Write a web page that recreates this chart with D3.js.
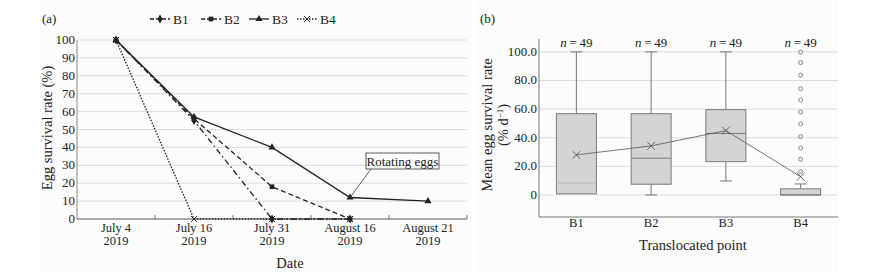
<!DOCTYPE html>
<html>
<head>
<meta charset="utf-8">
<script src="https://cdn.jsdelivr.net/npm/d3@7"></script>
<style>
  body { margin: 0; background: #fff; }
  svg { font-family: "Liberation Serif", "Times New Roman", serif; }
</style>
</head>
<body>
<div id="chart"></div>
<script>
// ---- datos panel (a)
const dateLabels = ["July 4", "July 16", "July 31", "August 16", "August 21"];
const yearLabel = "2019";
const b1Rates = [100, 55, 0, 0];
const b2Rates = [100, 56, 18, 0];
const b3Rates = [100, 57, 40, 12, 10];
const b4Rates = [100, 0, 0, 0];
const rateTicks = [0, 10, 20, 30, 40, 50, 60, 70, 80, 90, 100];

// ---- datos panel (b)
const points = ["B1", "B2", "B3", "B4"];
const q1 = [0.8, 7.5, 23.3, 0];
const medians = [8.4, 25.7, 43, 0];
const q3 = [56.8, 56.8, 59.6, 4.3];
const whiskLo = [0.8, 0, 9.8, 0];
const whiskHi = [100, 100, 100, 7.7];
const means = [28, 34.3, 45, 12.8];
const nCounts = [49, 49, 49, 49];
const b4Outliers = [99.8, 92.5, 83.7, 74.3, 66.4, 58, 49.7, 40.8, 32.9, 25, 16.3];
const meanTicks = [0, 20, 40, 60, 80, 100];

const svg = d3.select("#chart").append("svg")
    .attr("width", 888)
    .attr("height", 279);

// fondos muy tenues de cada panel
svg.append("rect").attr("x", 40).attr("y", 0).attr("width", 432).attr("height", 272).attr("fill", "#fcfcfc");
svg.append("rect").attr("x", 476).attr("y", 0).attr("width", 362).attr("height", 272).attr("fill", "#fcfcfc");

// ================= Panel (a) =================
const xA = d3.scaleBand().domain(dateLabels).range([77, 467]);
const yA = d3.scaleLinear().domain([0, 100]).range([219, 40]);
const gA = svg.append("g");

gA.append("text").attr("x", 42).attr("y", 23).attr("font-size", 13).attr("fill", "#222").text("(a)");

// grid
gA.selectAll(".gridA").data(rateTicks.filter(d => d > 0)).join("line")
    .attr("x1", 77).attr("x2", 467)
    .attr("y1", d => yA(d)).attr("y2", d => yA(d))
    .attr("stroke", "#dcdcdc").attr("stroke-width", 1);

// y ticks
gA.selectAll(".ytA").data(rateTicks).join("text")
    .attr("x", 75).attr("y", d => yA(d) + 4)
    .attr("text-anchor", "end").attr("font-size", 13).attr("fill", "#222")
    .text(d => d);

// axis lines
gA.append("line").attr("x1", 77).attr("x2", 77).attr("y1", yA(100)).attr("y2", yA(0))
    .attr("stroke", "#888");
gA.append("line").attr("x1", 77).attr("x2", 467).attr("y1", yA(0)).attr("y2", yA(0))
    .attr("stroke", "#555");
const boundaries = dateLabels.map(d => xA(d) + xA.bandwidth());
gA.selectAll(".tickA").data(boundaries).join("line")
    .attr("x1", d => d).attr("x2", d => d)
    .attr("y1", yA(0) - 4).attr("y2", yA(0))
    .attr("stroke", "#777");

// x labels
const cx = d => xA(d) + xA.bandwidth() / 2;
gA.selectAll(".xlA").data(dateLabels).join("text")
    .attr("x", cx).attr("y", 232)
    .attr("text-anchor", "middle").attr("font-size", 12.5).attr("fill", "#222")
    .text(d => d);
gA.selectAll(".xlA2").data(dateLabels).join("text")
    .attr("x", cx).attr("y", 245)
    .attr("text-anchor", "middle").attr("font-size", 12.5).attr("fill", "#222")
    .text(yearLabel);

gA.append("text").attr("x", 290).attr("y", 268).attr("text-anchor", "middle")
    .attr("font-size", 14.5).attr("fill", "#222").text("Date");
gA.append("text").attr("transform", "translate(52,128) rotate(-90)")
    .attr("text-anchor", "middle").attr("font-size", 14.5).attr("fill", "#222")
    .text("Egg survival rate (%)");

// series
const seriesA = [
  { name: "B1", values: b1Rates, dash: "6,3,1.5,3", marker: "diamond" },
  { name: "B2", values: b2Rates, dash: "5,3", marker: "square" },
  { name: "B3", values: b3Rates, dash: null, marker: "triangle" },
  { name: "B4", values: b4Rates, dash: "1.5,1.5", marker: "cross" }
];
const symbolOf = {
  diamond: d3.symbol().type(d3.symbolDiamond).size(24),
  square: d3.symbol().type(d3.symbolSquare).size(22),
  triangle: d3.symbol().type(d3.symbolTriangle).size(22),
  cross: d3.symbol().type(d3.symbolX).size(26)
};
const lineA = d3.line()
    .x((d, i) => cx(dateLabels[i]))
    .y(d => yA(d));

seriesA.forEach(s => {
  gA.append("path")
      .attr("d", lineA(s.values))
      .attr("fill", "none")
      .attr("stroke", "#222")
      .attr("stroke-width", 1.3)
      .attr("stroke-dasharray", s.dash);
});
seriesA.forEach(s => {
  gA.selectAll(null).data(s.values).join("path")
      .attr("transform", (d, i) => `translate(${cx(dateLabels[i])},${yA(d)})`)
      .attr("d", symbolOf[s.marker])
      .attr("fill", "#222")
      .attr("stroke", s.marker === "cross" ? "#222" : "none")
      .attr("stroke-width", 1);
});

// annotation
const annX = cx("August 16"), annY = yA(b3Rates[3]);
gA.append("line").attr("x1", annX).attr("y1", annY).attr("x2", annX + 21).attr("y2", 169)
    .attr("stroke", "#333").attr("stroke-width", 0.8);
gA.append("rect").attr("x", annX + 16).attr("y", 153).attr("width", 73).attr("height", 16)
    .attr("fill", "#fff").attr("stroke", "#333").attr("stroke-width", 0.8);
gA.append("text").attr("x", annX + 52.5).attr("y", 165.5).attr("text-anchor", "middle")
    .attr("font-size", 13).attr("fill", "#222").text("Rotating eggs");

// legend
const legX = [150, 201, 249, 297];
seriesA.forEach((s, i) => {
  const lg = gA.append("g").attr("transform", `translate(${legX[i]},19)`);
  lg.append("line").attr("x1", 0).attr("x2", 20).attr("y1", 0).attr("y2", 0)
      .attr("stroke", "#222").attr("stroke-width", 1.3)
      .attr("stroke-dasharray", s.dash ? (s.marker === "cross" ? "1.5,1.5" : "4,2") : null);
  lg.append("path").attr("transform", "translate(10,0)")
      .attr("d", symbolOf[s.marker])
      .attr("fill", "#222").attr("stroke", s.marker === "cross" ? "#222" : "none");
  lg.append("text").attr("x", 23).attr("y", 4.5).attr("font-size", 13.5).attr("fill", "#222").text(s.name);
});

// ================= Panel (b) =================
const xB = d3.scaleBand().domain(points).range([539, 838]);
const yB = d3.scaleLinear().domain([-15.4, 109]).range([217, 39]);
const gB = svg.append("g");
const cxB = d => xB(d) + xB.bandwidth() / 2;
const boxW = 40;

gB.append("text").attr("x", 480).attr("y", 23).attr("font-size", 13).attr("fill", "#222").text("(b)");

gB.selectAll(".gridB").data(meanTicks).join("line")
    .attr("x1", 539).attr("x2", 838)
    .attr("y1", d => yB(d)).attr("y2", d => yB(d))
    .attr("stroke", "#dcdcdc");

gB.selectAll(".ytB").data(meanTicks).join("text")
    .attr("x", 537).attr("y", d => yB(d) + 4)
    .attr("text-anchor", "end").attr("font-size", 13).attr("fill", "#222")
    .text(d => d === 0 ? "0" : d3.format(".1f")(d));

gB.append("line").attr("x1", 539).attr("x2", 539).attr("y1", 39).attr("y2", 217).attr("stroke", "#777");
gB.append("line").attr("x1", 539).attr("x2", 838).attr("y1", 217).attr("y2", 217).attr("stroke", "#777");

// whiskers
points.forEach((p, i) => {
  const c = cxB(p);
  gB.append("line").attr("x1", c).attr("x2", c).attr("y1", yB(q3[i])).attr("y2", yB(whiskHi[i])).attr("stroke", "#777");
  gB.append("line").attr("x1", c - 6).attr("x2", c + 6).attr("y1", yB(whiskHi[i])).attr("y2", yB(whiskHi[i])).attr("stroke", "#777");
  if (whiskLo[i] < q1[i]) {
    gB.append("line").attr("x1", c).attr("x2", c).attr("y1", yB(q1[i])).attr("y2", yB(whiskLo[i])).attr("stroke", "#777");
    gB.append("line").attr("x1", c - 6).attr("x2", c + 6).attr("y1", yB(whiskLo[i])).attr("y2", yB(whiskLo[i])).attr("stroke", "#777");
  }
});

// boxes
gB.selectAll(".box").data(points).join("rect")
    .attr("x", d => cxB(d) - boxW / 2)
    .attr("y", (d, i) => yB(q3[i]))
    .attr("width", boxW)
    .attr("height", (d, i) => yB(q1[i]) - yB(q3[i]))
    .attr("fill", "#d4d4d4").attr("stroke", "#7a7a7a").attr("stroke-width", 1);

gB.selectAll(".med").data(points).join("line")
    .attr("x1", d => cxB(d) - boxW / 2).attr("x2", d => cxB(d) + boxW / 2)
    .attr("y1", (d, i) => yB(medians[i])).attr("y2", (d, i) => yB(medians[i]))
    .attr("stroke", (d, i) => i === 0 ? "#b8b8b8" : "#7a7a7a");

// outliers
gB.selectAll(".out").data(b4Outliers).join("circle")
    .attr("cx", cxB("B4")).attr("cy", d => yB(d)).attr("r", 2)
    .attr("fill", "none").attr("stroke", "#888").attr("stroke-width", 1);

// mean line + markers
const meanLine = d3.line().x((d, i) => cxB(points[i])).y(d => yB(d));
gB.append("path").attr("d", meanLine(means)).attr("fill", "none").attr("stroke", "#555").attr("stroke-width", 0.8);
gB.selectAll(".mean").data(means).join("path")
    .attr("transform", (d, i) => `translate(${cxB(points[i])},${yB(d)})`)
    .attr("d", d3.symbol().type(d3.symbolX).size(40))
    .attr("fill", "none").attr("stroke", "#555").attr("stroke-width", 0.9);

// n labels
const nLab = gB.selectAll(".nlab").data(nCounts).join("text")
    .attr("x", (d, i) => cxB(points[i])).attr("y", 47)
    .attr("text-anchor", "middle").attr("font-size", 13).attr("fill", "#222");
nLab.append("tspan").attr("font-style", "italic").text("n");
nLab.append("tspan").text(d => "\u2009=\u2009" + d);

gB.selectAll(".xlB").data(points).join("text")
    .attr("x", cxB).attr("y", 227)
    .attr("text-anchor", "middle").attr("font-size", 12.5).attr("fill", "#222")
    .text(d => d);

gB.append("text").attr("x", 693).attr("y", 250).attr("text-anchor", "middle")
    .attr("font-size", 14.5).attr("fill", "#222").text("Translocated point");

const yt = gB.append("text").attr("transform", "translate(492,125) rotate(-90)")
    .attr("text-anchor", "middle").attr("font-size", 14.5).attr("fill", "#222");
yt.append("tspan").attr("x", 0).attr("dy", 0).text("Mean egg survival rate");
const yt2 = yt.append("tspan").attr("x", 0).attr("dy", 16).text("(% d");
yt2.append("tspan").attr("font-size", 9).attr("dy", -5).text("\u22121");
yt.append("tspan").attr("dy", 5).text(")");
</script>
</body>
</html>
